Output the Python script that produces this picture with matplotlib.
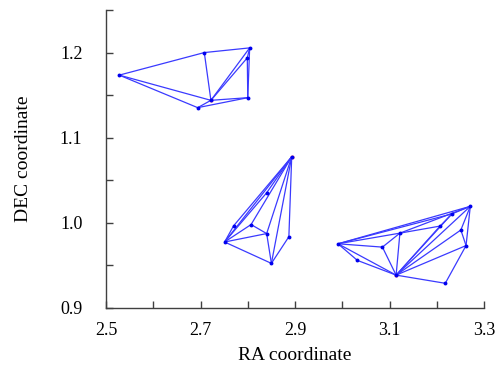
import matplotlib
matplotlib.use("Agg")
import matplotlib.pyplot as plt
from matplotlib.ticker import MultipleLocator

plt.rcParams['font.family'] = ['Liberation Serif', 'DejaVu Serif']

# Cluster 1
ra1 = [2.528, 2.708, 2.804, 2.799, 2.800, 2.722, 2.694]
dec1 = [1.1735, 1.2000, 1.2055, 1.1938, 1.1470, 1.1439, 1.1353]
edges1 = [(0, 1), (1, 2), (0, 5), (0, 6), (6, 5), (6, 4), (5, 4), (1, 5),
          (5, 2), (5, 3), (2, 3), (3, 4), (2, 4)]
center1 = 5

# Cluster 2
ra2 = [2.893, 2.840, 2.770, 2.807, 2.751, 2.840, 2.887, 2.850]
dec2 = [1.0776, 1.0353, 0.9965, 0.9980, 0.9775, 0.9874, 0.9837, 0.9524]
edges2 = [(0, 1), (0, 2), (0, 4), (0, 3), (0, 5), (0, 6), (0, 7), (4, 2),
          (4, 3), (3, 5), (4, 5), (4, 7), (5, 7), (6, 7), (1, 4)]
center2 = 0

# Cluster 3
ra3 = [2.991, 3.032, 3.085, 3.122, 3.114, 3.207, 3.232, 3.271, 3.251, 3.262, 3.218]
dec3 = [0.9754, 0.9559, 0.9715, 0.9879, 0.9386, 0.9962, 1.0105, 1.0194, 0.9916, 0.9733, 0.9290]
edges3 = [(0, 7), (0, 6), (0, 3), (0, 2), (0, 1), (1, 4), (0, 4), (2, 4),
          (2, 3), (3, 4), (3, 5), (4, 5), (4, 6), (4, 7), (4, 8), (4, 9),
          (7, 8), (7, 9), (9, 10), (4, 10), (5, 6), (6, 7), (3, 7), (8, 9)]
center3 = 4

clusters = [(ra1, dec1, edges1, center1), (ra2, dec2, edges2, center2),
            (ra3, dec3, edges3, center3)]

x_ticks = [2.5, 2.7, 2.9, 3.1, 3.3]
y_ticks = [0.9, 1.0, 1.1, 1.2]

fig = plt.figure(figsize=(4.98, 3.73), dpi=100)
ax = fig.add_axes([0.2129, 0.1743, 0.9719 - 0.2129, 0.9732 - 0.1743])

line_color = '#3a3aff'
for ra, dec, edges, c in clusters:
    for i, j in edges:
        ax.plot([ra[i], ra[j]], [dec[i], dec[j]], color=line_color, lw=0.9,
                solid_capstyle='round')
    ax.plot(ra, dec, 'o', color='#0000ee', ms=2.8, mew=0)
    ax.plot([ra[c]], [dec[c]], 'o', color='#ff6060', ms=3.0, mew=0, zorder=1)

ax.set_xlim(2.5, 3.3)
ax.set_ylim(0.9, 1.25)
ax.xaxis.set_minor_locator(MultipleLocator(0.1))
ax.yaxis.set_minor_locator(MultipleLocator(0.05))
ax.set_yticks(y_ticks)
ax.set_yticklabels([f'{v:.1f}' for v in y_ticks])
ax.set_xticks(x_ticks)
ax.set_xticklabels([f'{v:.1f}' for v in x_ticks])

for s in ['top', 'right']:
    ax.spines[s].set_visible(False)
for s in ['left', 'bottom']:
    ax.spines[s].set_color('#404040')
    ax.spines[s].set_linewidth(1.0)
ax.tick_params(which='both', direction='in', length=5, width=1, color='#404040',
               labelsize=13)
ax.tick_params(axis='x', pad=10)
ax.tick_params(axis='y', pad=17)

ax.set_xlabel('RA coordinate', fontsize=14)
ax.set_ylabel('DEC coordinate', fontsize=14)
ax.xaxis.set_label_coords(0.5, -0.13)
ax.yaxis.set_label_coords(-0.195, 0.5)

fig.savefig('out.png', dpi=100)
